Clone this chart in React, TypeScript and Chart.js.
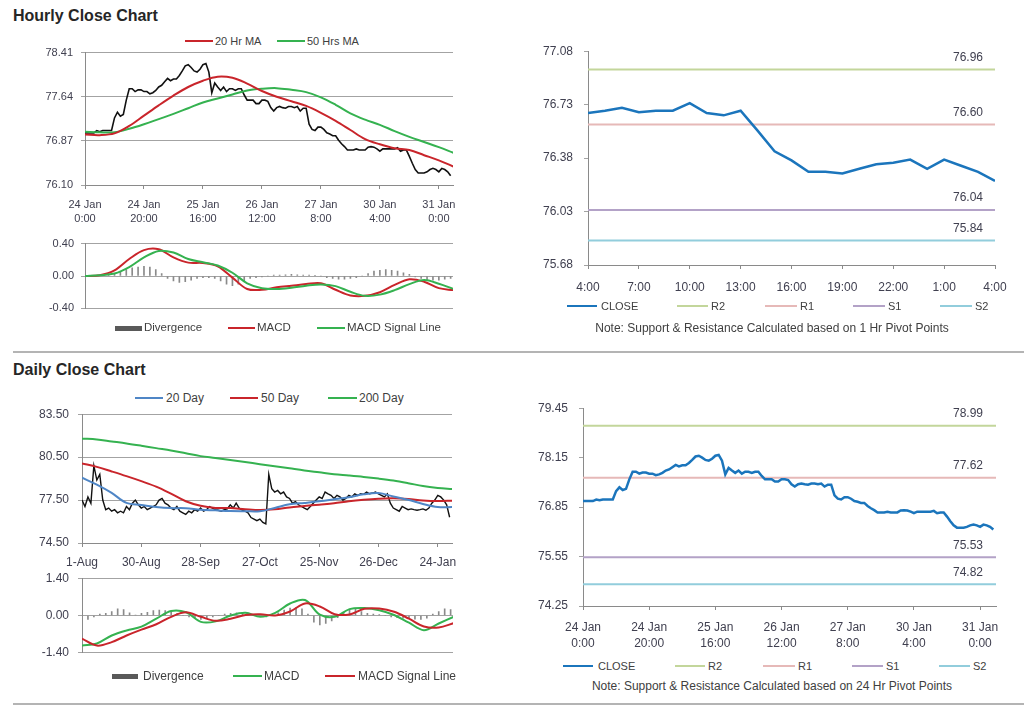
import React, { useEffect, useRef } from "react";
import { Chart, registerables } from "chart.js";

Chart.register(...registerables);

const FONT = "'Liberation Sans', Arial, Helvetica, sans-serif";
Chart.defaults.font.family = FONT;

// ---------------- DATA ----------------
// Hourly close (24 Jan 0:00 -> 31 Jan 4:00), one value per trading hour
const HOURLY_CLOSE = [
  77.01, 77.01, 77.01, 77.01, 77.05, 77.03, 77.05, 77.05, 77.05, 77.05,
  77.27, 77.37, 77.3, 77.33, 77.58, 77.78, 77.78, 77.73, 77.76, 77.76,
  77.73, 77.73, 77.69, 77.71, 77.75, 77.81, 77.84, 77.9, 77.96, 77.92,
  77.95, 77.95, 78.01, 78.09, 78.18, 78.2, 78.15, 78.09, 78.07, 78.12,
  78.2, 78.22, 78.07, 77.71, 77.88, 77.81, 77.75, 77.81, 77.73, 77.78,
  77.78, 77.75, 77.78, 77.78, 77.67, 77.58, 77.58, 77.58, 77.52, 77.52,
  77.58, 77.58, 77.56, 77.45, 77.39, 77.45, 77.47, 77.45, 77.44, 77.47,
  77.47, 77.45, 77.47, 77.39, 77.44, 77.44, 77.16, 77.07, 77.05, 77.11,
  77.11, 77.07, 77.01, 76.99, 76.96, 76.96, 76.88, 76.82, 76.77, 76.71,
  76.71, 76.71, 76.73, 76.71, 76.71, 76.71, 76.76, 76.77, 76.76, 76.73,
  76.69, 76.73, 76.73, 76.73, 76.73, 76.73, 76.75, 76.69, 76.71, 76.71,
  76.6, 76.48, 76.37, 76.31, 76.31, 76.31, 76.33, 76.37, 76.39, 76.37,
  76.33, 76.39, 76.37, 76.33, 76.26,
];
const HOUR_TICK_POS = [0, 20, 40, 60, 80, 100, 120];
const HOUR_TICK_LABELS = [
  ["24 Jan", "0:00"], ["24 Jan", "20:00"], ["25 Jan", "16:00"], ["26 Jan", "12:00"],
  ["27 Jan", "8:00"], ["30 Jan", "4:00"], ["31 Jan", "0:00"],
];
// moving averages / MACD sampled every 5 hours
const SMOOTH_STEP = 5;
const MA20_HR = [76.98, 76.97, 77.0, 77.13, 77.31, 77.49, 77.66, 77.81, 77.92, 77.99, 77.97, 77.87, 77.74, 77.64, 77.56, 77.48, 77.36, 77.22, 77.06, 76.9, 76.81, 76.74, 76.71, 76.62, 76.53, 76.42];
const MA50_HR = [77.03, 77.02, 77.02, 77.08, 77.16, 77.25, 77.34, 77.44, 77.54, 77.61, 77.68, 77.75, 77.78, 77.79, 77.76, 77.72, 77.63, 77.5, 77.35, 77.24, 77.15, 77.04, 76.94, 76.85, 76.76, 76.66];
const MACD_HR = [0.0, 0.01, 0.07, 0.21, 0.32, 0.33, 0.23, 0.165, 0.16, 0.12, -0.02, -0.16, -0.17, -0.14, -0.12, -0.1, -0.09, -0.17, -0.24, -0.245, -0.2, -0.11, -0.04, -0.07, -0.15, -0.175];
const SIGNAL_HR = [0.0, 0.01, 0.03, 0.11, 0.23, 0.31, 0.29, 0.21, 0.17, 0.13, 0.04, -0.09, -0.15, -0.16, -0.145, -0.12, -0.105, -0.125, -0.195, -0.245, -0.23, -0.175, -0.1, -0.05, -0.095, -0.16];
// divergence sampled every 2 hours
const DIV_STEP = 2;
const DIV_HR = [
  0.0, 0.005, 0.005, 0.01, 0.02, 0.03, 0.05, 0.08, 0.1, 0.11,
  0.12, 0.11, 0.08, 0.03, -0.03, -0.06, -0.08, -0.07, -0.05, -0.03,
  -0.02, -0.02, -0.03, -0.06, -0.1, -0.12, -0.1, -0.06, -0.03, -0.02,
  -0.01, 0.0, 0.01, 0.01, 0.015, 0.02, 0.015, 0.01, 0.01, 0.005,
  0.0, -0.02, -0.03, -0.04, -0.04, -0.03, -0.02, 0.0, 0.03, 0.06,
  0.07, 0.08, 0.07, 0.06, 0.04, 0.02, -0.01, -0.03, -0.045, -0.05,
  -0.05, -0.04, -0.03,
];
const HOUR_Y_TICKS = [76.1, 76.87, 77.64, 78.41];
const MACD_HR_TICKS = [-0.4, 0, 0.4];

// Last 24 hours (4:00 -> 4:00) with 1 Hr pivots
const LAST24_CLOSE = [76.675, 76.69, 76.71, 76.68, 76.69, 76.69, 76.74, 76.675, 76.66, 76.69, 76.56, 76.425, 76.365, 76.29, 76.29, 76.28, 76.31, 76.34, 76.35, 76.37, 76.31, 76.37, 76.33, 76.29, 76.23];
const LAST24_TICK_POS = [0, 3, 6, 9, 12, 15, 18, 21, 24];
const LAST24_TICK_LABELS = ["4:00", "7:00", "10:00", "13:00", "16:00", "19:00", "22:00", "1:00", "4:00"];
const LAST24_Y_TICKS = [75.68, 76.03, 76.38, 76.73, 77.08];
const PIVOT_NAMES = ["R2", "R1", "S1", "S2"];
const PIVOTS_1HR = [76.96, 76.6, 76.04, 75.84];
const PIVOTS_24HR = [78.99, 77.62, 75.53, 74.82];
const HR24_Y_TICKS = [74.25, 75.55, 76.85, 78.15, 79.45];

// Daily close (1-Aug -> 27-Jan)
const DAILY_CLOSE = [
  77.5, 77.05, 77.72, 77.28, 79.9, 78.9, 79.3, 77.5, 76.83, 76.94,
  76.72, 76.83, 76.61, 76.72, 76.61, 77.05, 76.83, 77.28, 77.5, 77.17,
  76.94, 77.05, 76.83, 76.94, 77.05, 77.17, 77.5, 77.61, 77.28, 77.17,
  76.94, 76.83, 77.05, 76.72, 76.61, 76.5, 76.72, 76.61, 76.83, 76.72,
  76.94, 76.72, 76.83, 77.05, 76.94, 76.83, 76.79, 76.72, 76.83, 76.88,
  77.17, 76.94, 77.28, 76.94, 76.79, 76.72, 76.61, 76.28, 76.17, 76.06,
  76.17, 75.94, 75.83, 79.3, 78.3, 78.06, 78.17, 77.94, 78.06, 77.72,
  77.61, 77.28, 77.39, 77.17, 77.05, 76.94, 76.83, 77.05, 77.28, 77.5,
  77.72, 77.61, 78.06, 77.94, 77.83, 77.61, 77.83, 77.72, 77.5, 77.61,
  77.83, 77.72, 77.94, 77.83, 77.94, 77.9, 78.06, 77.94, 77.99, 78.06,
  77.94, 77.83, 77.72, 77.94, 77.28, 76.94, 76.83, 76.72, 77.05, 76.94,
  76.83, 76.88, 76.83, 76.79, 76.83, 76.88, 76.79, 76.94, 77.28, 77.5,
  77.83, 77.72, 77.5, 77.17, 76.3,
];
const DAY_TICK_POS = [0, 20, 40, 60, 80, 100, 120];
const DAY_TICK_LABELS = ["1-Aug", "30-Aug", "28-Sep", "27-Oct", "25-Nov", "26-Dec", "24-Jan"];
const MA20_D = [79.06, 78.58, 78.0, 77.3, 77.16, 77.02, 76.94, 76.93, 76.83, 76.78, 76.73, 76.72, 76.72, 76.95, 77.2, 77.3, 77.41, 77.55, 77.7, 77.9, 77.99, 77.75, 77.52, 77.23, 77.02, 77.01];
const MA50_D = [80.06, 79.82, 79.5, 79.17, 78.82, 78.44, 77.95, 77.42, 77.1, 76.95, 76.94, 76.86, 76.8, 76.85, 76.98, 77.08, 77.18, 77.28, 77.42, 77.52, 77.59, 77.62, 77.57, 77.47, 77.43, 77.46];
const MA200_D = [81.79, 81.74, 81.6, 81.46, 81.3, 81.13, 80.97, 80.77, 80.57, 80.44, 80.3, 80.16, 80.01, 79.87, 79.72, 79.57, 79.44, 79.31, 79.22, 79.12, 79.0, 78.86, 78.68, 78.48, 78.35, 78.27];
const MACD_D = [-1.13, -1.05, -0.75, -0.56, -0.42, -0.12, 0.17, 0.12, -0.24, -0.22, 0.0, 0.1, -0.05, 0.1, 0.45, 0.58, 0.03, -0.05, 0.24, 0.28, 0.2, 0.02, -0.27, -0.55, -0.3, -0.05];
const SIGNAL_D = [-0.87, -1.13, -1.0, -0.75, -0.53, -0.33, -0.05, 0.12, -0.05, -0.2, -0.12, 0.02, 0.05, 0.0, 0.15, 0.45, 0.34, 0.05, 0.04, 0.25, 0.26, 0.14, -0.12, -0.41, -0.45, -0.29];
const DIV_D = [
  -0.2, -0.15, -0.05, 0.05, 0.08, 0.15, 0.25, 0.22, 0.1, 0.02,
  0.08, 0.12, 0.18, 0.2, 0.18, 0.15, 0.08, 0.0, -0.05, -0.1,
  -0.15, -0.12, -0.05, 0.0, 0.05, 0.08, 0.1, 0.1, 0.08, 0.04,
  -0.03, -0.05, 0.02, 0.1, 0.2, 0.28, 0.3, 0.25, 0.05, -0.25,
  -0.35, -0.3, -0.2, -0.08, 0.12, 0.22, 0.25, 0.15, 0.08, 0.05,
  0.03, 0.0, -0.05, -0.08, -0.1, -0.12, -0.14, -0.15, -0.1, 0.05,
  0.15, 0.25, 0.22,
];
const DAY_Y_TICKS = [74.5, 77.5, 80.5, 83.5];
const MACD_D_TICKS = [-1.4, 0, 1.4];

// ---------------- STYLE ----------------
const TEXT = "#404050";
const LEG_TEXT = "#404040";
const GRID = "#a3a3a3";
const AXIS = "#8a8a8a";
const RED = "#c9252b";
const GREEN = "#35b250";
const BLUE20 = "#4f86c6";
const CLOSE_BLUE = "#1b75bc";
const DIV_GRAY = "#8a8a8a";
const PIVOT_COLORS = ["#c3d69b", "#e6b9b8", "#b3a2c7", "#92cddc"];

// ---------------- HELPERS ----------------
const pts = (vals: number[], step = 1) => vals.map((y, i) => ({ x: i * step, y }));
const fixTicks = (vals: number[]) => (scale: any) => {
  scale.ticks = vals.map((value) => ({ value }));
};
const lineDs = (label: string, data: any[], color: string, width: number, extra: any = {}) => ({
  type: "line",
  label,
  data,
  borderColor: color,
  backgroundColor: color,
  borderWidth: width,
  pointRadius: 0,
  pointHoverRadius: 0,
  fill: false,
  tension: 0,
  ...extra,
});
const divDs = (data: number[], step: number) => ({
  type: "bar",
  label: "Divergence",
  data: pts(data, step),
  backgroundColor: DIV_GRAY,
  borderWidth: 0,
  barThickness: 1,
  grouped: false,
  order: 5,
});
const pivotDs = (vals: number[], xmax: number) =>
  vals.map((v, k) =>
    lineDs(PIVOT_NAMES[k], [{ x: 0, y: v }, { x: xmax, y: v }], PIVOT_COLORS[k], 2, { order: 4 })
  );

const baseOpts = (padding: any) => ({
  responsive: false,
  animation: false,
  events: [],
  layout: { padding },
  plugins: { legend: { display: false }, tooltip: { enabled: false } },
});

function xAxis(max: number, pos: number[], labels: any[], o: { size: number; height: number; pad: number; lh: number }) {
  return {
    type: "linear",
    min: 0,
    max,
    offset: false,
    afterBuildTicks: fixTicks(pos),
    afterFit: (s: any) => {
      s.height = o.height;
    },
    ticks: {
      autoSkip: false,
      maxRotation: 0,
      minRotation: 0,
      padding: o.pad,
      color: TEXT,
      font: { family: FONT, size: o.size, lineHeight: o.lh },
      callback: (_v: any, i: number) => labels[i],
    },
    grid: { drawOnChartArea: false, drawTicks: true, tickLength: 4, color: AXIS, offset: false },
    border: { display: true, color: AXIS, width: 1 },
  };
}
const hiddenX = (max: number) => ({
  type: "linear",
  min: 0,
  max,
  offset: false,
  grid: { offset: false },
  display: false,
});

function yAxis(min: number, max: number, ticks: number[], o: { width: number; size: number; pad: number; grid: boolean }) {
  return {
    type: "linear",
    min,
    max,
    afterBuildTicks: fixTicks(ticks),
    afterFit: (s: any) => {
      s.width = o.width;
    },
    ticks: {
      padding: o.pad,
      color: TEXT,
      font: { family: FONT, size: o.size },
      callback: (v: any) => Number(v).toFixed(2),
    },
    grid: { drawOnChartArea: o.grid, drawTicks: true, tickLength: 4, color: GRID },
    border: { display: true, color: AXIS, width: 1 },
  };
}

const pivotLabels = {
  id: "pivotLabels",
  afterDatasetsDraw(chart: any, _args: any, opts: any) {
    if (!opts || !opts.values) return;
    const { ctx, chartArea, scales } = chart;
    ctx.save();
    ctx.font = `12px ${FONT}`;
    ctx.fillStyle = TEXT;
    ctx.textAlign = "center";
    ctx.textBaseline = "middle";
    opts.values.forEach((v: number) => {
      const y = scales.y.getPixelForValue(v);
      ctx.fillText(v.toFixed(2), chartArea.right - opts.dx, y - opts.dy);
    });
    ctx.restore();
  },
};

// ---------------- CHART CONFIGS ----------------
const cfgHourly = () => ({
  type: "line",
  data: {
    datasets: [
      lineDs("Close", pts(HOURLY_CLOSE), "#111111", 1.6, { order: 3 }),
      lineDs("20 Hr MA", pts(MA20_HR, SMOOTH_STEP), RED, 2, { order: 1, tension: 0.35 }),
      lineDs("50 Hrs MA", pts(MA50_HR, SMOOTH_STEP), GREEN, 2, { order: 2, tension: 0.35 }),
    ],
  },
  options: {
    ...baseOpts({ top: 12, right: 17, bottom: 0, left: 0 }),
    scales: {
      x: xAxis(124.8, HOUR_TICK_POS, HOUR_TICK_LABELS, { size: 11, height: 45, pad: 9, lh: 1.27 }),
      y: yAxis(76.1, 78.41, HOUR_Y_TICKS, { width: 85, size: 11, pad: 8, grid: true }),
    },
  },
});

const cfgHourlyMacd = () => ({
  type: "line",
  data: {
    datasets: [
      divDs(DIV_HR, DIV_STEP),
      lineDs("MACD", pts(MACD_HR, SMOOTH_STEP), RED, 2, { order: 2, tension: 0.35 }),
      lineDs("MACD Signal Line", pts(SIGNAL_HR, SMOOTH_STEP), GREEN, 2, { order: 1, tension: 0.35 }),
    ],
  },
  options: {
    ...baseOpts({ top: 8, right: 17, bottom: 8, left: 0 }),
    scales: {
      x: hiddenX(124.8),
      y: yAxis(-0.4, 0.4, MACD_HR_TICKS, { width: 85, size: 11, pad: 7, grid: true }),
    },
  },
});

const cfgLast24 = () => ({
  type: "line",
  data: {
    datasets: [
      lineDs("CLOSE", pts(LAST24_CLOSE), CLOSE_BLUE, 2.5, { order: 1 }),
      ...pivotDs(PIVOTS_1HR, 24),
    ],
  },
  options: {
    ...baseOpts({ top: 14, right: 29, bottom: 0, left: 0 }),
    plugins: {
      legend: { display: false },
      tooltip: { enabled: false },
      pivotLabels: { values: PIVOTS_1HR, dx: 27, dy: 12 },
    },
    scales: {
      x: xAxis(24, LAST24_TICK_POS, LAST24_TICK_LABELS, { size: 12, height: 30, pad: 11, lh: 1.2 }),
      y: yAxis(75.68, 77.08, LAST24_Y_TICKS, { width: 68, size: 12, pad: 11, grid: false }),
    },
  },
  plugins: [pivotLabels],
});

const cfgDaily = () => ({
  type: "line",
  data: {
    datasets: [
      lineDs("Close", pts(DAILY_CLOSE), "#111111", 1.4, { order: 4 }),
      lineDs("20 Day", pts(MA20_D, SMOOTH_STEP), BLUE20, 2, { order: 1, tension: 0.35 }),
      lineDs("50 Day", pts(MA50_D, SMOOTH_STEP), RED, 2, { order: 2, tension: 0.35 }),
      lineDs("200 Day", pts(MA200_D, SMOOTH_STEP), GREEN, 2, { order: 3, tension: 0.35 }),
    ],
  },
  options: {
    ...baseOpts({ top: 10, right: 18, bottom: 0, left: 0 }),
    scales: {
      x: xAxis(124.8, DAY_TICK_POS, DAY_TICK_LABELS, { size: 12, height: 29, pad: 8, lh: 1.2 }),
      y: yAxis(74.5, 83.5, DAY_Y_TICKS, { width: 82, size: 12, pad: 9, grid: true }),
    },
  },
});

const cfgDailyMacd = () => ({
  type: "line",
  data: {
    datasets: [
      divDs(DIV_D, DIV_STEP),
      lineDs("MACD", pts(MACD_D, SMOOTH_STEP), GREEN, 2, { order: 2, tension: 0.35 }),
      lineDs("MACD Signal Line", pts(SIGNAL_D, SMOOTH_STEP), RED, 2, { order: 1, tension: 0.35 }),
    ],
  },
  options: {
    ...baseOpts({ top: 10, right: 17, bottom: 8, left: 0 }),
    scales: {
      x: hiddenX(124.8),
      y: yAxis(-1.4, 1.4, MACD_D_TICKS, { width: 82, size: 12, pad: 9, grid: true }),
    },
  },
});

const cfgHr24 = () => ({
  type: "line",
  data: {
    datasets: [
      lineDs("CLOSE", pts(HOURLY_CLOSE), CLOSE_BLUE, 2.5, { order: 1 }),
      ...pivotDs(PIVOTS_24HR, 124.8),
    ],
  },
  options: {
    ...baseOpts({ top: 12, right: 28, bottom: 0, left: 0 }),
    plugins: {
      legend: { display: false },
      tooltip: { enabled: false },
      pivotLabels: { values: PIVOTS_24HR, dx: 28, dy: 12 },
    },
    scales: {
      x: xAxis(124.8, HOUR_TICK_POS, HOUR_TICK_LABELS, { size: 12, height: 50, pad: 10, lh: 1.3 }),
      y: yAxis(74.25, 79.45, HR24_Y_TICKS, { width: 63, size: 12, pad: 11, grid: false }),
    },
  },
  plugins: [pivotLabels],
});

// ---------------- COMPONENTS ----------------
function ChartBox({ left, top, width, height, build }: any) {
  const ref = useRef<HTMLCanvasElement | null>(null);
  useEffect(() => {
    const chart = new Chart(ref.current as HTMLCanvasElement, build() as any);
    return () => chart.destroy();
  }, []);
  return (
    <canvas
      ref={ref}
      width={width}
      height={height}
      style={{ position: "absolute", left, top, width, height }}
    />
  );
}

const Key = ({ x0, x1, y, color, h = 2 }: any) => (
  <div style={{ position: "absolute", left: x0, top: y - h / 2, width: x1 - x0, height: h, background: color }} />
);
const Txt = ({ x, y, text, size = 11, weight = 400, color = LEG_TEXT, center = false }: any) => (
  <div
    style={{
      position: "absolute",
      left: x,
      top: y,
      transform: center ? "translate(-50%,-50%)" : "translateY(-50%)",
      fontSize: size,
      fontWeight: weight,
      fontFamily: FONT,
      color,
      lineHeight: 1,
      whiteSpace: "nowrap",
    }}
  >
    {text}
  </div>
);
const Sep = ({ y }: any) => (
  <div style={{ position: "absolute", left: 13, top: y, width: 1011, height: 2, background: "#b4b4b4" }} />
);

export default function App() {
  return (
    <div
      style={{
        position: "absolute",
        left: 0,
        top: 0,
        width: 1024,
        height: 706,
        background: "#ffffff",
        overflow: "hidden",
        fontFamily: FONT,
      }}
    >
      <Txt x={13} y={16} text="Hourly Close Chart" size={16} weight={700} color="#262626" />
      <Txt x={13} y={370} text="Daily Close Chart" size={16} weight={700} color="#262626" />

      {/* Hourly price */}
      <Key x0={185} x1={213} y={41} color={RED} />
      <Txt x={215} y={41} text="20 Hr MA" size={11} />
      <Key x0={277} x1={305} y={41} color={GREEN} />
      <Txt x={307} y={41} text="50 Hrs MA" size={11} />
      <ChartBox left={0} top={38} width={470} height={192} build={cfgHourly} />

      {/* Hourly MACD */}
      <ChartBox left={0} top={230} width={470} height={92} build={cfgHourlyMacd} />
      <Key x0={115} x1={142} y={328} color="#595959" h={5} />
      <Txt x={144} y={328} text="Divergence" size={11.5} />
      <Key x0={228} x1={255} y={328} color={RED} />
      <Txt x={257} y={328} text="MACD" size={11.5} />
      <Key x0={317} x1={345} y={328} color={GREEN} />
      <Txt x={347} y={328} text="MACD Signal Line" size={11.5} />

      {/* Last 24 hours with 1 Hr pivots */}
      <ChartBox left={520} top={33} width={504} height={262} build={cfgLast24} />
      <Key x0={567} x1={597} y={306} color={CLOSE_BLUE} h={2.5} />
      <Txt x={601} y={306} text="CLOSE" size={11} />
      <Key x0={677} x1={708} y={306} color={PIVOT_COLORS[0]} h={1.5} />
      <Txt x={711} y={306} text={PIVOT_NAMES[0]} size={11} />
      <Key x0={765} x1={797} y={306} color={PIVOT_COLORS[1]} h={1.5} />
      <Txt x={800} y={306} text={PIVOT_NAMES[1]} size={11} />
      <Key x0={853} x1={885} y={306} color={PIVOT_COLORS[2]} h={1.5} />
      <Txt x={888} y={306} text={PIVOT_NAMES[2]} size={11} />
      <Key x0={940} x1={972} y={306} color={PIVOT_COLORS[3]} h={1.5} />
      <Txt x={975} y={306} text={PIVOT_NAMES[3]} size={11} />
      <Txt x={772} y={328} center text="Note: Support & Resistance Calculated based on 1 Hr Pivot Points" size={12} />

      <Sep y={351} />

      {/* Daily price */}
      <Key x0={135} x1={163} y={398} color={BLUE20} />
      <Txt x={166} y={398} text="20 Day" size={12} />
      <Key x0={230} x1={258} y={398} color={RED} />
      <Txt x={261} y={398} text="50 Day" size={12} />
      <Key x0={328} x1={357} y={398} color={GREEN} />
      <Txt x={359} y={398} text="200 Day" size={12} />
      <ChartBox left={0} top={398} width={470} height={174} build={cfgDaily} />

      {/* Daily MACD */}
      <ChartBox left={0} top={562} width={470} height={107} build={cfgDailyMacd} />
      <Key x0={112} x1={138} y={676} color="#595959" h={5} />
      <Txt x={143} y={676} text="Divergence" size={12} />
      <Key x0={233} x1={262} y={676} color={GREEN} />
      <Txt x={264} y={676} text="MACD" size={12} />
      <Key x0={325} x1={355} y={676} color={RED} />
      <Txt x={358} y={676} text="MACD Signal Line" size={12} />

      {/* Hourly with 24 Hr pivots */}
      <ChartBox left={520} top={390} width={504} height={266} build={cfgHr24} />
      <Key x0={563} x1={593} y={666} color={CLOSE_BLUE} h={2.5} />
      <Txt x={598} y={666} text="CLOSE" size={11} />
      <Key x0={675} x1={705} y={666} color={PIVOT_COLORS[0]} h={1.5} />
      <Txt x={708} y={666} text={PIVOT_NAMES[0]} size={11} />
      <Key x0={763} x1={795} y={666} color={PIVOT_COLORS[1]} h={1.5} />
      <Txt x={798} y={666} text={PIVOT_NAMES[1]} size={11} />
      <Key x0={852} x1={883} y={666} color={PIVOT_COLORS[2]} h={1.5} />
      <Txt x={886} y={666} text={PIVOT_NAMES[2]} size={11} />
      <Key x0={939} x1={970} y={666} color={PIVOT_COLORS[3]} h={1.5} />
      <Txt x={973} y={666} text={PIVOT_NAMES[3]} size={11} />
      <Txt x={772} y={686} center text="Note: Support & Resistance Calculated based on 24 Hr Pivot Points" size={12} />

      <Sep y={703} />
    </div>
  );
}
